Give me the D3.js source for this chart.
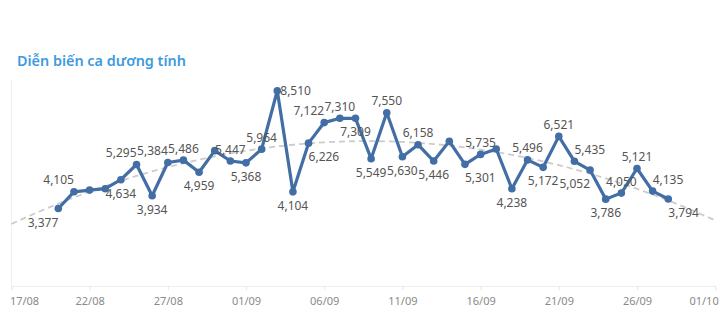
<!DOCTYPE html>
<html>
<head>
<meta charset="utf-8">
<script src="https://cdn.jsdelivr.net/npm/d3@7"></script>
<style>
  html, body { margin: 0; padding: 0; background: #fff; }
  svg { display: block; }
</style>
</head>
<body>
<svg id="chart" width="720" height="322"></svg>
<script>
// ---- data ----
const title = "Diễn biến ca dương tính";
const dates = [
  "2021-08-20","2021-08-21","2021-08-22","2021-08-23","2021-08-24","2021-08-25","2021-08-26","2021-08-27",
  "2021-08-28","2021-08-29","2021-08-30","2021-08-31","2021-09-01","2021-09-02","2021-09-03","2021-09-04",
  "2021-09-05","2021-09-06","2021-09-07","2021-09-08","2021-09-09","2021-09-10","2021-09-11","2021-09-12",
  "2021-09-13","2021-09-14","2021-09-15","2021-09-16","2021-09-17","2021-09-18","2021-09-19","2021-09-20",
  "2021-09-21","2021-09-22","2021-09-23","2021-09-24","2021-09-25","2021-09-26","2021-09-27","2021-09-28"
];
const cases = [
  3377, 4105, 4180, 4240, 4634, 5295, 3934, 5384,
  5486, 4959, 5900, 5447, 5368, 5964, 8510, 4104,
  6226, 7122, 7310, 7309, 5549, 7550, 5630, 6158,
  5446, 6307, 5301, 5735, 5972, 4238, 5496, 5172,
  6521, 5435, 5052, 3786, 4050, 5121, 4135, 3794
];
// label placement: "" = no label; T/B = above/below; L/R = text ends/starts at the point
const labelPlacement = [
  "BL","TL","","","B","TL","B","TL",
  "T","B","","T","B","T","R","B",
  "BR","TL","T","B","B","T","B","T",
  "B","","BR","T","","B","T","B",
  "T","TR","BL","B","T","T","TR","BR"
];
const tickDates = ["2021-08-17","2021-08-22","2021-08-27","2021-09-01","2021-09-06",
                   "2021-09-11","2021-09-16","2021-09-21","2021-09-26","2021-10-01"];
const xDomain = ["2021-08-17","2021-10-01"];
const yDomain = [0, 9000];

// ---- setup ----
const parse = d3.utcParse("%Y-%m-%d");
const fmtTick = d3.utcFormat("%d/%m");
const fmtNum = d3.format(",");
const data = dates.map((d, i) => ({ date: parse(d), value: cases[i], pos: labelPlacement[i] }));

const svg = d3.select("#chart");
const mLeft = 11.4, mRight = 715.2, mTop = 79.5, mBottom = 286;

const x = d3.scaleUtc().domain(xDomain.map(parse)).range([mLeft, mRight]);
const y = d3.scaleLinear().domain(yDomain).range([mBottom, mTop]);

const lineColor = "#426ea5";

// title
svg.append("text")
  .attr("x", 17).attr("y", 66)
  .attr("font-family", "'Noto Sans', sans-serif")
  .attr("font-weight", 600)
  .attr("font-size", 14.4)
  .attr("fill", "#3d9ade")
  .text(title);

// frame line
svg.append("line")
  .attr("x1", mLeft).attr("x2", mLeft).attr("y1", mTop).attr("y2", mBottom)
  .attr("stroke", "#f0f0f0").attr("stroke-width", 1);

// x axis
const xAxis = d3.axisBottom(x)
  .tickValues(tickDates.map(parse))
  .tickFormat(fmtTick)
  .tickSize(4)
  .tickPadding(7);
const gx = svg.append("g").attr("transform", `translate(0,${mBottom})`).call(xAxis);
gx.select(".domain").attr("stroke", "#efefef");
gx.selectAll(".tick line").attr("stroke", "#e6e6e6");
gx.selectAll(".tick text")
  .attr("font-family", "'Noto Sans', sans-serif")
  .attr("font-size", 11)
  .attr("fill", "#8a8a8a");
const tickTexts = gx.selectAll(".tick text").nodes();
d3.select(tickTexts[0]).attr("text-anchor", "start").attr("dx", -2);
d3.select(tickTexts[tickTexts.length - 1]).attr("text-anchor", "end").attr("dx", 3);

// trend line: quadratic least squares fit of the series
const t0 = x.domain()[0].getTime();
const dayOf = d => (d.getTime() - t0) / 86400000;
(function () {
  let S = [0,0,0,0,0], T = [0,0,0];
  data.forEach(p => {
    const t = dayOf(p.date), v = p.value;
    for (let k = 0; k < 5; k++) S[k] += Math.pow(t, k);
    for (let k = 0; k < 3; k++) T[k] += v * Math.pow(t, k);
  });
  const A = [[S[0],S[1],S[2]],[S[1],S[2],S[3]],[S[2],S[3],S[4]]];
  const b = T.slice();
  for (let i = 0; i < 3; i++) {
    for (let j = i + 1; j < 3; j++) {
      const f = A[j][i] / A[i][i];
      for (let k = i; k < 3; k++) A[j][k] -= f * A[i][k];
      b[j] -= f * b[i];
    }
  }
  const c = [0,0,0];
  for (let i = 2; i >= 0; i--) {
    let s = b[i];
    for (let k = i + 1; k < 3; k++) s -= A[i][k] * c[k];
    c[i] = s / A[i][i];
  }
  const days = d3.range(0, dayOf(x.domain()[1]) + 0.01, 0.5);
  const trend = days.map(t => [x(new Date(t0 + t * 86400000)), y(c[0] + c[1]*t + c[2]*t*t)]);
  svg.append("path")
    .attr("d", d3.line()(trend))
    .attr("fill", "none")
    .attr("stroke", "#cccccc")
    .attr("stroke-width", 1.8)
    .attr("stroke-dasharray", "6,4");
})();

// main line
svg.append("path")
  .datum(data)
  .attr("d", d3.line().x(d => x(d.date)).y(d => y(d.value)))
  .attr("fill", "none")
  .attr("stroke", lineColor)
  .attr("stroke-width", 3.2)
  .attr("stroke-linejoin", "round");

svg.append("g").selectAll("circle")
  .data(data).join("circle")
  .attr("cx", d => x(d.date)).attr("cy", d => y(d.value))
  .attr("r", 3.8).attr("fill", lineColor);

// labels
svg.append("g").selectAll("text")
  .data(data.filter(d => d.pos))
  .join("text")
  .attr("font-family", "'Noto Sans', sans-serif")
  .attr("font-size", 12)
  .attr("fill", "#555555")
  .attr("x", d => x(d.date) + (d.pos === "R" ? 3 : 0))
  .attr("y", d => {
    const py = y(d.value);
    if (d.pos === "R") return py + 4.5;
    return d.pos[0] === "T" ? py - 7.5 : py + 18;
  })
  .attr("text-anchor", d => {
    if (d.pos === "R" || d.pos.endsWith("R")) return "start";
    if (d.pos.endsWith("L")) return "end";
    return "middle";
  })
  .text(d => fmtNum(d.value));
</script>
</body>
</html>
